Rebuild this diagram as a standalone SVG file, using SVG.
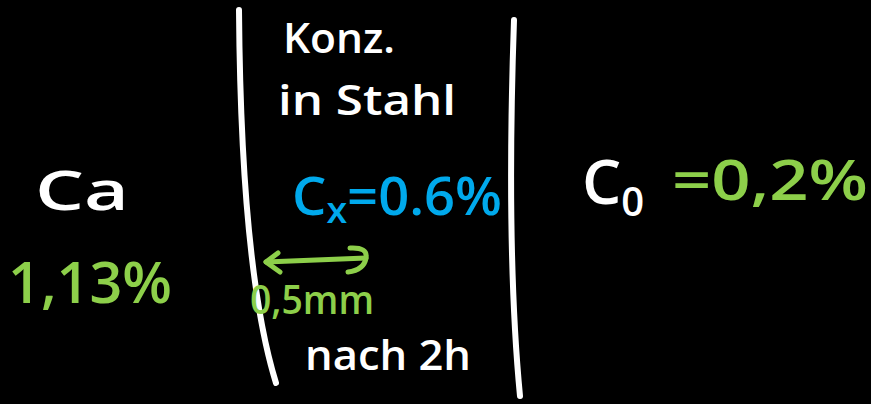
<svg xmlns="http://www.w3.org/2000/svg" width="871" height="404" viewBox="0 0 871 404">
<defs>
<style>
.t{font-family:"Open Sans","Liberation Sans",sans-serif;font-weight:600}
.w{fill:#ffffff}.g{fill:#8dcf4a}.b{fill:#00a9ec}
.ln{fill:none;stroke:#ffffff;stroke-width:6;stroke-linecap:round}
.ga{fill:none;stroke:#8dcf4a;stroke-width:5;stroke-linecap:round;stroke-linejoin:round}
</style>
</defs>
<rect width="871" height="404" fill="#000000"/>
<g id="walls">
<path class="ln" d="M239,10 Q241,270 276,383"/>
<path class="ln" d="M514,20 Q506,250 520,396"/>
</g>
<g id="steel-label">
<text class="t w" x="283" y="53" font-size="42" textLength="112" lengthAdjust="spacingAndGlyphs">Konz.</text>
<text class="t w" x="278" y="115" font-size="42" textLength="178" lengthAdjust="spacingAndGlyphs">in Stahl</text>
</g>
<g id="ca">
<text class="t w" x="35" y="210" font-size="54" textLength="94" lengthAdjust="spacingAndGlyphs">Ca</text>
<text class="t g" x="8" y="303" font-size="58" textLength="164" lengthAdjust="spacingAndGlyphs">1,13%</text>
</g>
<g id="cx">
<text class="t b" x="292" y="215" font-size="52" textLength="210" lengthAdjust="spacingAndGlyphs">C<tspan font-size="36" dy="8">x</tspan><tspan dy="-8">=0.6%</tspan></text>
</g>
<g id="c0">
<text class="t w" x="582" y="204" font-size="62">C<tspan font-size="40" dy="12">0</tspan></text>
<text class="t g" x="672" y="200" font-size="56" textLength="196" lengthAdjust="spacingAndGlyphs">=0,2%</text>
</g>
<g id="connectors">
<path class="ga" d="M266,262 L366,258"/>
<path class="ga" d="M278,253 L266,262 L280,272"/>
<path class="ga" d="M350,248 Q368,247 366,258 Q364,270 348,272"/>
</g>
<g id="dist">
<text class="t g" x="250" y="314" font-size="40" textLength="124" lengthAdjust="spacingAndGlyphs">0,5mm</text>
<text class="t w" x="305" y="370" font-size="42" textLength="166" lengthAdjust="spacingAndGlyphs">nach 2h</text>
</g>
</svg>
